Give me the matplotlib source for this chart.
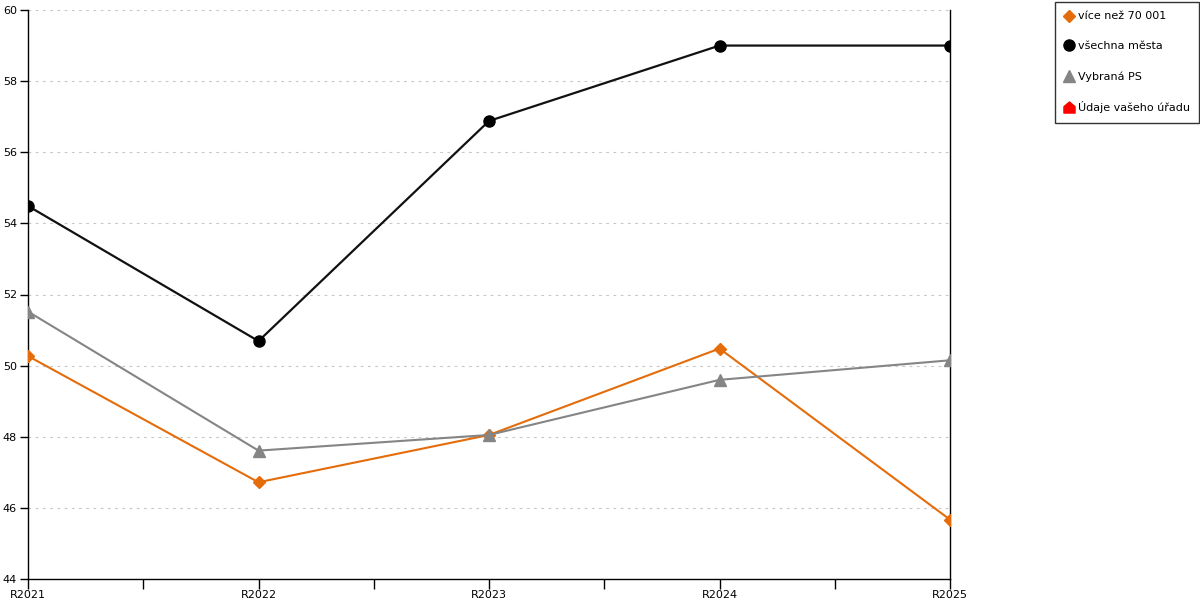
import matplotlib
matplotlib.use("Agg")
import matplotlib.pyplot as plt
from matplotlib.path import Path
from matplotlib.ticker import MultipleLocator, FixedLocator

# data
years = ["R2021", "R2022", "R2023", "R2024", "R2025"]
vice_nez_70001 = [50.27, 46.72, 48.05, 50.48, 45.67]
vsechna_mesta = [54.49, 50.69, 56.88, 59.0, 59.0]
vybrana_ps = [51.52, 47.61, 48.05, 49.6, 50.15]

orange = "#e46c0a"
grey = "#858585"

# house shaped marker for the legend-only series
house = Path([(-1, -1), (1, -1), (1, 0.15), (0, 1), (-1, 0.15), (-1, -1)],
             [Path.MOVETO, Path.LINETO, Path.LINETO, Path.LINETO, Path.LINETO, Path.CLOSEPOLY])

plt.rcParams['font.family'] = ['DejaVu Sans']

fig = plt.figure(figsize=(12, 6), dpi=100)
ax = fig.add_axes([28 / 1200, 21 / 600, 922 / 1200, 569 / 600])

x = list(range(len(years)))
ax.plot(x, vice_nez_70001, color=orange, lw=1.5, marker="D", ms=6, mec=orange, mfc=orange, label="více než 70 001", zorder=4)
ax.plot(x, vsechna_mesta, color="#111111", lw=1.6, marker="o", ms=8, mec="black", mfc="black", label="všechna města", zorder=5)
ax.plot(x, vybrana_ps, color=grey, lw=1.5, marker="^", ms=8, mec=grey, mfc=grey, label="Vybraná PS", zorder=4)
ax.plot([], [], color="red", lw=0, marker=house, ms=8, mec="red", mfc="red", label="Údaje vašeho úřadu")

ax.set_xlim(0, 4)
ax.set_ylim(44, 60)
ax.yaxis.set_major_locator(MultipleLocator(2))
ax.set_xticks(x)
ax.set_xticklabels(years)
ax.xaxis.set_minor_locator(FixedLocator([0.5, 1.5, 2.5, 3.5]))

ax.grid(axis="y", color="#c8c8c8", linestyle=(0, (2.5, 4)), lw=0.8)
ax.set_axisbelow(True)

for s in ["left", "bottom", "right"]:
    ax.spines[s].set_color("black")
    ax.spines[s].set_linewidth(1.0)
ax.spines["top"].set_visible(False)

ax.tick_params(axis="y", direction="out", length=6, width=1, labelsize=8, pad=2)
ax.tick_params(axis="x", which="both", direction="out", length=7, width=1, labelsize=8, pad=1)
ax.tick_params(axis="y", right=False)

leg = fig.legend(loc="upper left", bbox_to_anchor=(1055 / 1200, 1 - 2 / 600),
                 fontsize=8, frameon=True, fancybox=False, edgecolor="black",
                 labelspacing=1.78, handlelength=0.8, handletextpad=0.4,
                 borderpad=0.85, borderaxespad=0)
leg.get_frame().set_linewidth(1.0)
for h in leg.legend_handles:
    h.set_linestyle("None")

fig.savefig("out.png", dpi=100)
